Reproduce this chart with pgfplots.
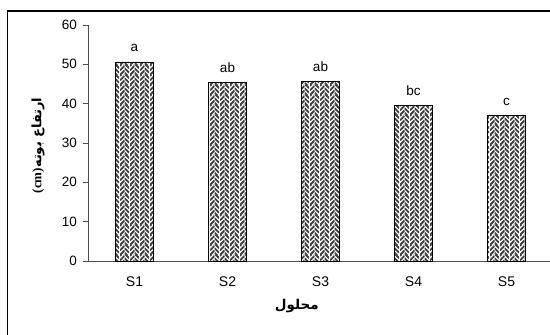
\documentclass[border=0pt]{standalone}
\usepackage{fontspec}
\usepackage{pgfplots}
\pgfplotsset{compat=1.18}
\usetikzlibrary{patterns}
\setmainfont{Liberation Sans}
\newfontfamily\arabicfont[Script=Arabic]{DejaVu Sans}
\newfontfamily\serifbold{Liberation Serif}
\TeXXeTstate=1

% herringbone weave fill for the bars
\pgfdeclarepatternformonly{weave}{\pgfqpoint{0bp}{0bp}}{\pgfqpoint{10bp}{10bp}}{\pgfqpoint{10bp}{10bp}}{%
  \pgfsetlinewidth{2.0bp}%
  \begin{pgfscope}
    \pgfpathrectangle{\pgfqpoint{0bp}{0bp}}{\pgfqpoint{5bp}{10bp}}\pgfusepath{clip}%
    \pgfpathmoveto{\pgfqpoint{0bp}{-5bp}}\pgfpathlineto{\pgfqpoint{5bp}{0bp}}%
    \pgfpathmoveto{\pgfqpoint{0bp}{0bp}}\pgfpathlineto{\pgfqpoint{5bp}{5bp}}%
    \pgfpathmoveto{\pgfqpoint{0bp}{5bp}}\pgfpathlineto{\pgfqpoint{5bp}{10bp}}%
    \pgfpathmoveto{\pgfqpoint{0bp}{10bp}}\pgfpathlineto{\pgfqpoint{5bp}{15bp}}%
    \pgfusepath{stroke}%
  \end{pgfscope}
  \begin{pgfscope}
    \pgfpathrectangle{\pgfqpoint{5bp}{0bp}}{\pgfqpoint{5bp}{10bp}}\pgfusepath{clip}%
    \pgfpathmoveto{\pgfqpoint{5bp}{2.5bp}}\pgfpathlineto{\pgfqpoint{10bp}{-2.5bp}}%
    \pgfpathmoveto{\pgfqpoint{5bp}{7.5bp}}\pgfpathlineto{\pgfqpoint{10bp}{2.5bp}}%
    \pgfpathmoveto{\pgfqpoint{5bp}{12.5bp}}\pgfpathlineto{\pgfqpoint{10bp}{7.5bp}}%
    \pgfusepath{stroke}%
  \end{pgfscope}
}

\pgfplotstableread{
x  h     lab
0  50.6  a
1  45.4  ab
2  45.6  ab
3  39.5  bc
4  36.9  c
}\heights

\begin{document}
\begin{tikzpicture}[x=1bp,y=1bp]
  \begin{axis}[
    scale only axis, width=465bp, height=236bp,
    xmin=-0.5, xmax=4.5, ymin=0, ymax=60,
    axis lines*=left,
    axis line style={black!70, line width=0.8bp},
    tick style={black!70, line width=0.8bp},
    tick align=outside,
    xtick={0,1,2,3,4},
    xticklabels={S1,S2,S3,S4,S5},
    x tick style={draw=none},
    extra x ticks={-0.5,0.5,1.5,2.5,3.5,4.5},
    extra x tick labels={},
    extra x tick style={major tick length=4bp, tick style={black!70, line width=0.8bp}},
    ytick={0,10,...,60},
    major tick length=5bp,
    yticklabel style={inner sep=0pt, xshift=-6bp, font=\fontsize{13.5bp}{15bp}\selectfont},
    xticklabel style={inner sep=0pt, yshift=-10.5bp, font=\fontsize{14bp}{15bp}\selectfont},
    /pgf/number format/assume math mode=true,
    ybar, bar width=38bp,
    nodes near coords,
    point meta=explicit symbolic,
    nodes near coords style={anchor=base, inner sep=0pt, yshift=10bp,
      font=\fontsize{13.5bp}{15bp}\selectfont},
    xlabel={\arabicfont\bfseries\beginR محلول\endR},
    xlabel style={at={(axis description cs:0.449,-0.19)}, anchor=center,
      font=\fontsize{13.5bp}{15bp}\selectfont},
    ylabel={{\serifbold\bfseries(cm)}{\arabicfont\bfseries\beginR ارتفاع بوته\endR}},
    ylabel style={at={(axis description cs:-0.1075,0.49)}, anchor=center, rotate=0,
      font=\fontsize{13bp}{15bp}\selectfont},
    clip=false,
  ]
    \addplot[draw=black, line width=0.8bp, fill=white,
      postaction={pattern=weave, pattern color=black!75}]
      table[x=x, y=h, meta=lab] {\heights};
    \coordinate (O) at (rel axis cs:0,0);
  \end{axis}
  % page area and outer chart frame, placed from the axis corner
  \pgfresetboundingbox
  \path[use as bounding box] ([shift={(-88,-73)}]O) rectangle ++(550,334);
  \draw[line width=1.4bp] ([shift={(-80.5,-90)}]O) -- ([shift={(-80.5,250)}]O) -- ([shift={(480,250)}]O);
\end{tikzpicture}
\end{document}
